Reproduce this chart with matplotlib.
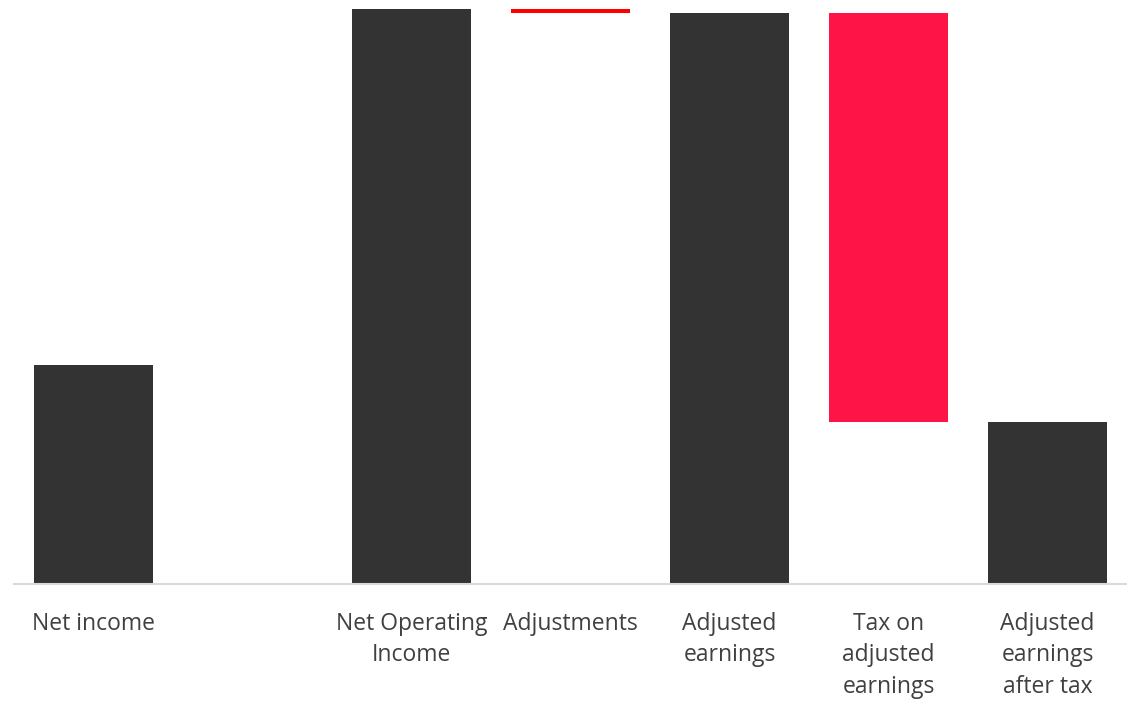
import matplotlib
matplotlib.use("Agg")
import matplotlib.pyplot as plt

categories = ["Net income", "", "Net Operating\nIncome", "Adjustments",
              "Adjusted\nearnings", "Tax on\nadjusted\nearnings", "Adjusted\nearnings\nafter tax"]
values = [219, None, 575, -4, 571, -409, 162]
kinds = ["total", "blank", "total", "delta", "total", "delta", "total"]
colors = ["#333333", "#ffffff", "#333333", "#ff0000", "#333333", "#ff1447", "#333333"]

fig = plt.figure(figsize=(11.27, 7.05), dpi=100)
ax = fig.add_axes([14 / 1127, (705 - 584) / 705, 1113 / 1127, 575 / 705])

running = 0
for i, (v, k, c) in enumerate(zip(values, kinds, colors)):
    if k == "blank":
        continue
    if k == "total":
        ax.bar(i, v, bottom=0, width=0.75, color=c, zorder=2)
        running = v
    else:
        start = running
        end = running + v
        ax.bar(i, end - start, bottom=start, width=0.75, color=c, zorder=2)
        running = end

ax.set_xlim(-0.5, len(categories) - 0.5)
ax.set_ylim(0, 575)
ax.set_xticks(range(len(categories)))
ax.set_xticklabels(categories, fontsize=16.5, color="#404040", family="Open Sans",
                   linespacing=1.42, va="top", ha="center")
ax.tick_params(axis="x", length=0, pad=20)
ax.set_yticks([])
for s in ["top", "left", "right"]:
    ax.spines[s].set_visible(False)
ax.spines["bottom"].set_color("#d9d9d9")
ax.spines["bottom"].set_linewidth(1.5)
ax.patch.set_visible(False)

fig.savefig("out.png", dpi=100)
